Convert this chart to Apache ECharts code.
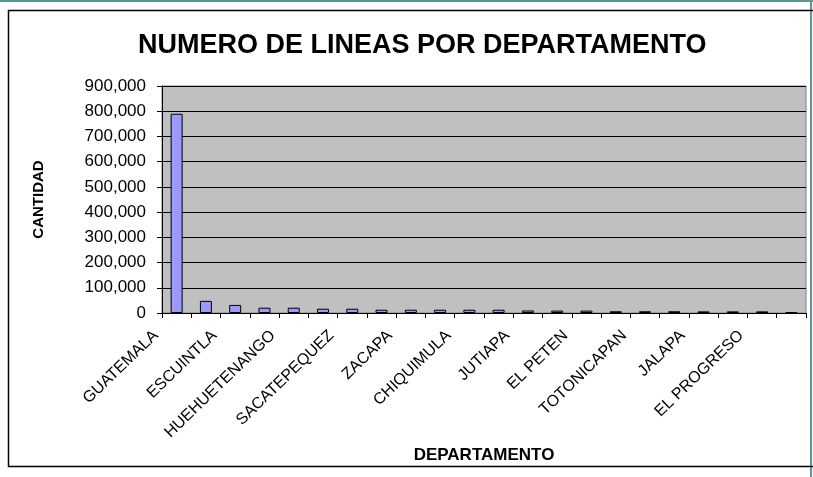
<!DOCTYPE html>
<html>
<head>
<meta charset="utf-8">
<script src="https://cdn.jsdelivr.net/npm/echarts@6/dist/echarts.min.js"></script>
<style>
html,body{margin:0;padding:0;background:#fff;}
#c{width:813px;height:477px;}
</style>
</head>
<body>
<div id="c"></div>
<script>
const titleText = 'NUMERO DE LINEAS POR DEPARTAMENTO';
const yAxisName = 'CANTIDAD';
const xAxisName = 'DEPARTAMENTO';
const categories = ['GUATEMALA','QUETZALTENANGO','ESCUINTLA','IZABAL','HUEHUETENANGO','SAN MARCOS','SACATEPEQUEZ','ALTA VERAPAZ','ZACAPA','SUCHITEPEQUEZ','CHIQUIMULA','RETALHULEU','JUTIAPA','CHIMALTENANGO','EL PETEN','SANTA ROSA','TOTONICAPAN','SOLOLA','JALAPA','QUICHE','EL PROGRESO','BAJA VERAPAZ'];
const values = [790000,48000,32000,21000,21000,17000,17000,13000,13000,13000,13000,13000,10000,9500,9500,7000,7000,7000,6500,6500,6500,2500];
const yTicks = {min:0, max:900000, interval:100000};

const chart = echarts.init(document.getElementById('c'), null, {renderer:'canvas'});
chart.setOption({
  animation:false,
  backgroundColor:'#ffffff',
  title:{
    text:titleText, left:133, top:27,
    textStyle:{fontFamily:'Liberation Sans, Arial', fontWeight:'bold', fontSize:27, color:'#000'}
  },
  graphic:[
    {type:'rect', shape:{x:0,y:0,width:813,height:2}, style:{fill:'#5f9494'}, silent:true},
    {type:'rect', shape:{x:810,y:0,width:2,height:477}, style:{fill:'#5f9494'}, silent:true},
    {type:'rect', shape:{x:8.5,y:10.5,width:810,height:456}, style:{fill:'none', stroke:'#000', lineWidth:1.5}, silent:true}
  ],
  grid:{left:162, top:86, width:644, height:227, show:true, backgroundColor:'#C0C0C0', borderColor:'#808080', borderWidth:1},
  xAxis:{
    type:'category', data:categories,
    name:xAxisName, nameLocation:'middle', nameGap:134,
    nameTextStyle:{fontFamily:'Liberation Sans, Arial', fontWeight:'bold', fontSize:17, color:'#000'},
    axisLine:{lineStyle:{color:'#000', width:1}},
    axisTick:{show:true, interval:0, length:5, lineStyle:{color:'#000'}},
    axisLabel:{interval:1, rotate:44, fontFamily:'Liberation Sans, Arial', fontSize:16, color:'#000', margin:0,
      padding:[0,29,67,0]}
  },
  yAxis:{
    type:'value', min:yTicks.min, max:yTicks.max, interval:yTicks.interval,
    name:yAxisName, nameLocation:'middle', nameRotate:90, nameGap:116,
    nameTextStyle:{fontFamily:'Liberation Sans, Arial', fontWeight:'bold', fontSize:15, color:'#000'},
    axisLine:{show:true, lineStyle:{color:'#000'}},
    axisTick:{show:true, length:5, lineStyle:{color:'#000'}},
    splitLine:{show:true, lineStyle:{color:'#000', width:1}},
    axisLabel:{fontFamily:'Liberation Sans, Arial', fontSize:17, color:'#000', margin:16,
      formatter:v=>v.toLocaleString('en-US')}
  },
  series:[{
    type:'bar', data:values, barWidth:12,
    itemStyle:{color:'#9999FF', borderColor:'#000', borderWidth:1}
  }]
});
</script>
</body>
</html>
